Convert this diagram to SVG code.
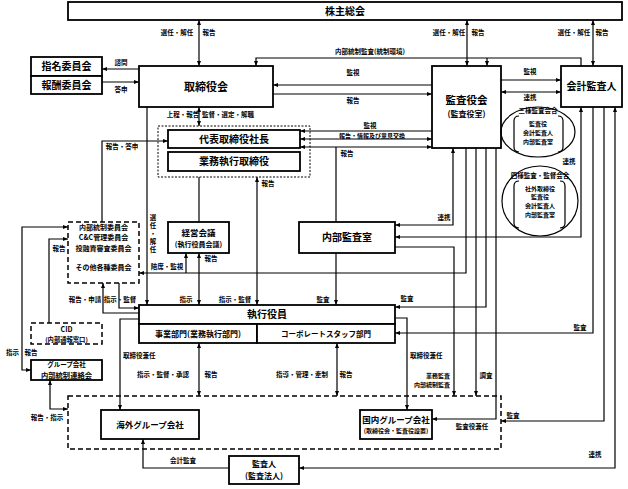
<svg xmlns="http://www.w3.org/2000/svg" width="628" height="489" viewBox="0 0 628 489">
<defs>
<marker id="ar" viewBox="0 0 10 10" refX="10" refY="5" markerWidth="5" markerHeight="5" markerUnits="userSpaceOnUse" orient="auto-start-reverse"><path d="M0,1 L10,5 L0,9 z" fill="#000"/></marker>
</defs>
<style>
text{font-family:"Noto Sans CJK JP","Noto Sans",sans-serif;font-weight:700;fill:#000;text-anchor:middle}
.box{fill:#fff;stroke:#000;stroke-width:1.8}
.dash{fill:#fff;stroke:#000;stroke-width:1.5;stroke-dasharray:5 3}
.dashn{fill:none;stroke:#000;stroke-width:1.5;stroke-dasharray:5 3}
.dot{fill:none;stroke:#000;stroke-width:1;stroke-dasharray:2 1.5}
.ell{fill:none;stroke:#000;stroke-width:1.2}
#connectors path{fill:none;stroke:#000;stroke-width:1.2}
.e1{marker-end:url(#ar)}
.e2{marker-start:url(#ar);marker-end:url(#ar)}
.s{font-size:6.5px}
.t{font-size:6px}
.n{font-size:10px}
.m{font-size:7px}
</style>
<rect width="628" height="489" fill="#fff"/>

<g id="connectors">
<path class="e2" d="M199,20 V66"/>
<path class="e2" d="M467,20 V66"/>
<path class="e2" d="M593,20 V66"/>
<path class="e1" d="M581,66 V58 H256 V66"/>
<path class="e1" d="M487,58 V66"/>
<path class="e1" d="M139,69 H102"/>
<path class="e1" d="M102,82 H139"/>
<path class="e1" d="M432,85 H273"/>
<path class="e1" d="M273,94 H432"/>
<path class="e1" d="M501,80 H561"/>
<path class="e2" d="M501,92 H561"/>
<path class="e1" d="M432,131 H300"/>
<path class="e2" d="M300,139 H432"/>
<path class="e2" d="M300,147 H432"/>
<path d="M336,147 V222"/>
<path class="e2" d="M199,107 V126"/>
<path class="e1" d="M102,222 V141 H168"/>
<path class="e1" d="M147,107 V305"/>
<path d="M199,177 V222"/>
<path class="e2" d="M257,177 V305"/>
<path class="e2" d="M199,253 V305"/>
<path class="e1" d="M466,148 V273 H139"/>
<path class="e1" d="M186,273 V253"/>
<path class="e1" d="M336,253 V305"/>
<path class="e2" d="M453,148 V225 H395"/>
<path class="e2" d="M581,107 V237 H395"/>
<path class="e1" d="M395,247 H454 V396"/>
<path class="e1" d="M476,148 V396"/>
<path class="e1" d="M486,148 V307 H395"/>
<path class="e1" d="M496,148 V419 H432"/>
<path class="e1" d="M593,107 V333 H395"/>
<path class="e1" d="M604,107 V421 H501"/>
<path class="e2" d="M615,107 V468 H299"/>
<path class="e1" d="M229,468 H143 V439"/>
<path class="e1" d="M139,319 H120 V410"/>
<path class="e1" d="M395,318 H407 V410"/>
<path class="e1" d="M119,283 V308 H139"/>
<path class="e1" d="M139,313 H103 V283"/>
<path class="e1" d="M49,323 V239 H68"/>
<path class="e2" d="M68,227 H22 V370 H31"/>
<path class="e2" d="M50,380 V409 H68"/>
<path class="e2" d="M199,343 V396"/>
<path class="e2" d="M337,343 V396"/>
</g>

<g id="labels" class="s">
<text x="177" y="35">選任・解任</text><text x="209" y="35">報告</text>
<text x="449" y="35">選任・解任</text><text x="478" y="35">報告</text>
<text x="574" y="35">選任・解任</text><text x="602" y="35">報告</text>
<text x="370" y="54">内部統制監査(統制環境)</text>
<text x="121" y="65">諮問</text><text x="121" y="92">答申</text>
<text x="353" y="75">監視</text><text x="353" y="103">報告</text>
<text x="530" y="74">監視</text><text x="530" y="100">連携</text>
<text x="370" y="128">監視</text>
<text x="372" y="137.5" style="font-size:6px">報告・情報及び意見交換</text>
<text x="347" y="156">報告</text>
<text x="183" y="117">上程・報告</text><text x="228" y="117">監督・選定・解職</text>
<text x="122" y="149">報告・答申</text>
<text x="153" y="214" style="writing-mode:vertical-rl;text-anchor:start;letter-spacing:1.5px">選任・解任</text>
<text x="268" y="186">報告</text>
<text x="211" y="261">報告</text>
<text x="167" y="269">陪席・監視</text>
<text x="444" y="220">連携</text>
<text x="569" y="164">連携</text>
<text x="186" y="302">指示</text>
<text x="235" y="302">指示・監督</text>
<text x="323" y="302">監査</text>
<text x="407" y="301">監査</text>
<text x="85" y="302">報告・申請</text>
<text x="120" y="302">指示・監督</text>
<text x="59" y="251">報告</text>
<text x="580" y="330">監査</text>
<text x="123" y="358" style="text-anchor:start">取締役兼任</text>
<text x="410" y="358" style="text-anchor:start">取締役兼任</text>
<text x="12.5" y="355">指示</text><text x="31" y="355">報告</text>
<text x="163" y="377">指示・監督・承認</text><text x="211" y="377">報告</text>
<text x="302" y="377">指導・管理・牽制</text><text x="346" y="377">報告</text>
<text class="t" x="450" y="377.5" style="text-anchor:end">業務監査</text>
<text class="t" x="450" y="386.5" style="text-anchor:end">内部統制監査</text>
<text x="486" y="378">調査</text>
<text x="472" y="429">監査役兼任</text>
<text x="513" y="418">監査</text>
<text x="47" y="420">報告・指示</text>
<text x="595" y="457">連携</text>
<text x="183" y="463">会計監査</text>
</g>

<g id="n-kabunushi"><rect class="box" x="68" y="2" width="554" height="18"/><text class="n" x="345" y="14.5">株主総会</text></g>
<g id="n-shimei"><rect class="box" x="31" y="57" width="71" height="19"/><text class="n" x="66.5" y="70">指名委員会</text></g>
<g id="n-hoshu"><rect class="box" x="31" y="76" width="71" height="18"/><text class="n" x="66.5" y="88.5">報酬委員会</text></g>
<g id="n-torishimariyakukai"><rect class="box" x="139" y="66" width="134" height="41"/><text x="206" y="90.5" style="font-size:11px">取締役会</text></g>
<g id="n-daihyo-group"><rect class="dot" x="158" y="126" width="152" height="51"/></g>
<g id="n-daihyo"><rect class="box" x="168" y="130" width="132" height="18"/><text class="n" x="234" y="142.5">代表取締役社長</text></g>
<g id="n-gyomu"><rect class="box" x="168" y="152" width="132" height="19"/><text class="n" x="234" y="165">業務執行取締役</text></g>
<g id="n-kansayakukai"><rect class="box" x="432" y="66" width="69" height="82"/><text x="466.5" y="104" style="font-size:10.5px">監査役会</text><text x="466.5" y="117" style="font-size:8px">(監査役室)</text></g>
<g id="n-kaikei"><rect class="box" x="561" y="66" width="61" height="41"/><text class="n" x="591.5" y="90">会計監査人</text></g>
<g id="n-sanyo"><ellipse class="ell" cx="538" cy="132" rx="37" ry="25"/>
<path class="ell" d="M519,116 Q514,116 514,121 V147 Q514,152 519,152 M558,116 Q563,116 563,121 V147 Q563,152 558,152"/>
<text class="s" x="538" y="112.5">三様監査会合</text>
<text class="t" x="538" y="126.3">監査役</text><text class="t" x="538" y="135.2">会計監査人</text><text class="t" x="538" y="144.1">内部監査室</text></g>
<g id="n-yonyo"><ellipse class="ell" cx="540" cy="201" rx="38" ry="35"/>
<path class="ell" d="M519,181 Q514,181 514,186 V223 Q514,228 519,228 M560,181 Q565,181 565,186 V223 Q565,228 560,228"/>
<text class="s" x="540" y="177.5">四様監査・監督会合</text>
<text class="t" x="540" y="190.5">社外取締役</text><text class="t" x="540" y="199.4">監査役</text><text class="t" x="540" y="208.3">会計監査人</text><text class="t" x="540" y="217.2">内部監査室</text></g>
<g id="n-naibukansa"><rect class="box" x="299" y="222" width="96" height="31"/><text class="n" x="347" y="241">内部監査室</text></g>
<g id="n-keiei"><rect class="box" x="168" y="222" width="61" height="31"/><text x="198.5" y="235.5" style="font-size:8.5px">経営会議</text><text x="198.5" y="247" style="font-size:7px">(執行役員会議)</text></g>
<g id="n-iinkai"><rect class="dash" x="68" y="222" width="71" height="61"/>
<text class="m" x="103.5" y="229.5">内部統制委員会</text><text class="m" x="103.5" y="240">C&amp;C管理委員会</text><text class="m" x="103.5" y="250.5">投融資審査委員会</text><text class="m" x="103.5" y="269.5">その他各種委員会</text></g>
<g id="n-shikkou"><rect class="box" x="139" y="305" width="256" height="19"/><text class="n" x="267" y="318">執行役員</text>
<rect class="box" x="139" y="324" width="118" height="19"/><text x="198" y="336.6" style="font-size:8px">事業部門(業務執行部門)</text>
<rect class="box" x="257" y="324" width="138" height="19"/><text x="326" y="336.6" style="font-size:7.5px">コーポレートスタッフ部門</text></g>
<g id="n-cid"><rect class="dash" x="31" y="323" width="71" height="21"/><text x="66.5" y="331.5" style="font-size:7px">CID</text><text x="66.5" y="341.5" style="font-size:6.3px">(内部通報窓口)</text></g>
<g id="n-group-renraku"><rect class="box" x="31" y="360" width="71" height="20"/><text x="66.5" y="367" style="font-size:6.5px">グループ会社</text><text x="66.5" y="378.3" style="font-size:7.3px">内部統制連絡会</text></g>
<g id="n-group-area"><rect class="dashn" x="68" y="396" width="433" height="53"/></g>
<g id="n-kaigai"><rect class="box" x="101" y="410" width="98" height="29"/><text x="150" y="428" style="font-size:8.5px">海外グループ会社</text></g>
<g id="n-kokunai"><rect class="box" x="360" y="410" width="72" height="29"/><text x="396" y="423" style="font-size:8.5px">国内グループ会社</text><text x="396" y="432.5" style="font-size:6px">(取締役会・監査役設置)</text></g>
<g id="n-kansanin"><rect class="box" x="229" y="456" width="70" height="28"/><text x="264" y="466.5" style="font-size:8px">監査人</text><text x="264" y="479" style="font-size:8px">(監査法人)</text></g>
</svg>
